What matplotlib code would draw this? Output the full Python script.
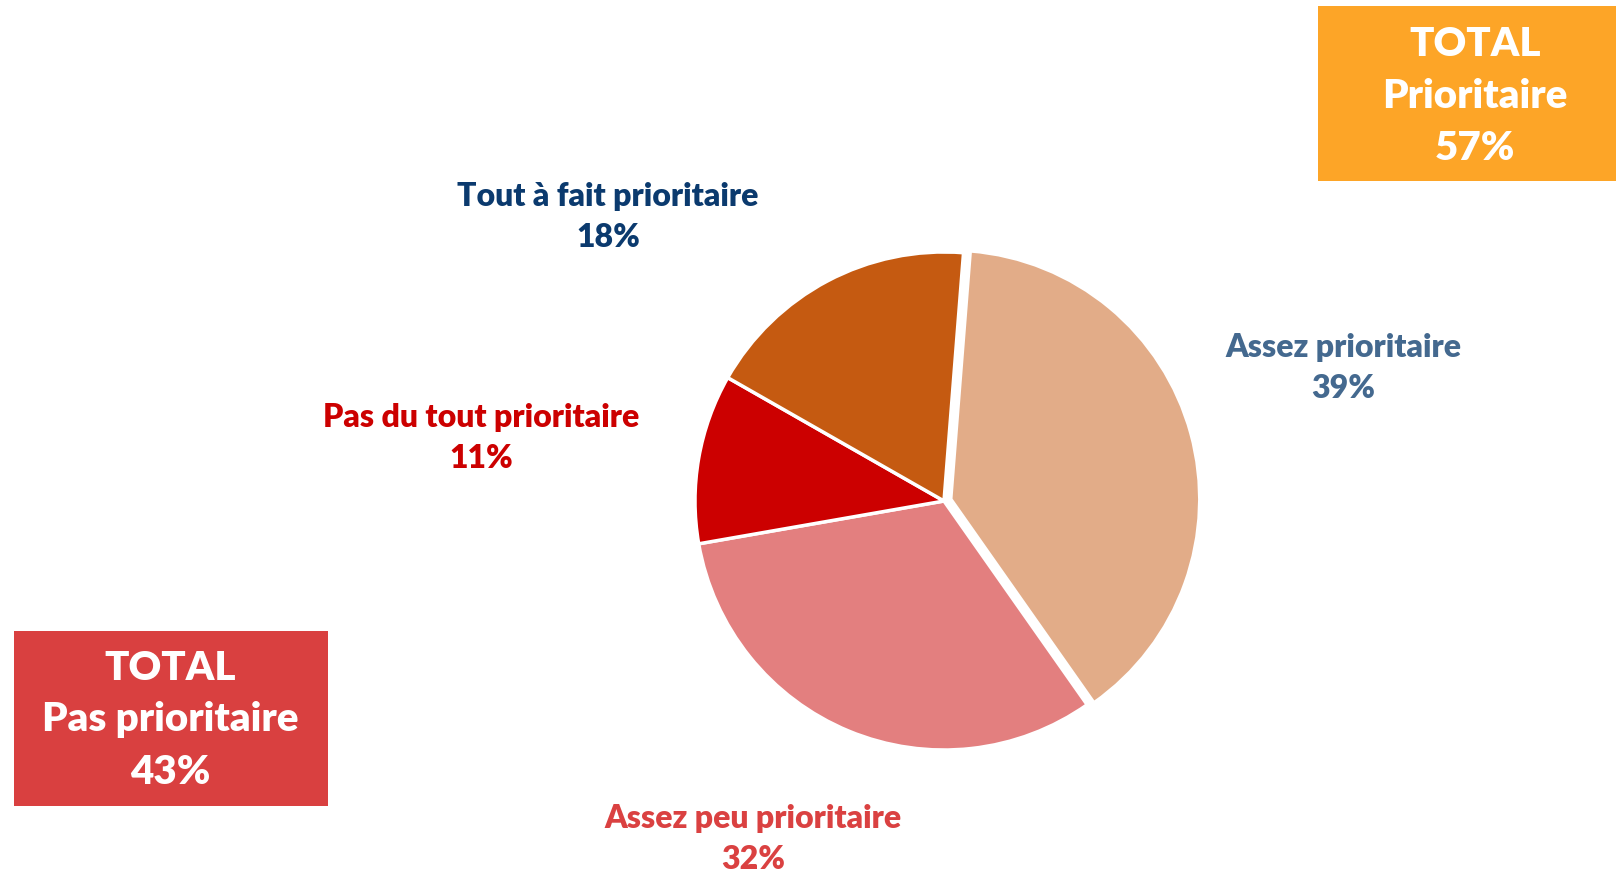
import matplotlib
matplotlib.use('Agg')
import matplotlib.pyplot as plt
from matplotlib.patches import Rectangle

# data
categories = ['Assez prioritaire', 'Assez peu prioritaire', 'Pas du tout prioritaire', 'Tout à fait prioritaire']
values = [39, 32, 11, 18]
totals_labels = ['TOTAL\nPrioritaire', 'TOTAL\nPas prioritaire']
totals_values = [57, 43]

slice_colors = ['#E2AC88', '#E37F7F', '#CC0000', '#C55A11']
text_colors = ['#44698F', '#DA4141', '#CC0000', '#0B3A6E']

plt.rcParams['font.family'] = ['Lato', 'DejaVu Sans']

W, H = 1616, 874
fig = plt.figure(figsize=(W / 100, H / 100), dpi=100)
ax = fig.add_axes([0, 0, 1, 1])

def iy(y):
    # image y (top down) -> data y
    return H - y

# explode is in data units here (pixels), since radius is in pixels too
ax.pie(values, colors=slice_colors, startangle=85.5, counterclock=False,
       center=(944, iy(501)), radius=249, explode=[7, 0, 0, 0],
       wedgeprops=dict(edgecolor='white', linewidth=2.5))

# slice labels (image coordinates of the label centre)
label_pos = [(1343, 368), (753, 839), (481, 438), (608, 217)]
for name, v, c, (x, y) in zip(categories, values, text_colors, label_pos):
    ax.text(x, iy(y), f'{name}\n{v}%', color=c, fontsize=23, fontweight='heavy',
            ha='center', va='center', linespacing=1.5)

# total boxes
boxes = [(1318, 6, 298, 175, '#FDA527', 1475, 96),
         (14, 631, 314, 175, '#D94040', 170, 720)]
for (x0, y0, w, h, fc, tx, ty), lab, v in zip(boxes, totals_labels, totals_values):
    ax.add_patch(Rectangle((x0, iy(y0 + h)), w, h, facecolor=fc, edgecolor='none'))
    ax.text(tx, iy(ty), f'{lab}\n{v}%', color='white', fontsize=29, fontweight='heavy',
            ha='center', va='center', linespacing=1.5)

ax.set_xlim(0, W)
ax.set_ylim(0, H)
ax.set_aspect('equal')
ax.axis('off')
fig.savefig('out.png', dpi=100, facecolor='white')
